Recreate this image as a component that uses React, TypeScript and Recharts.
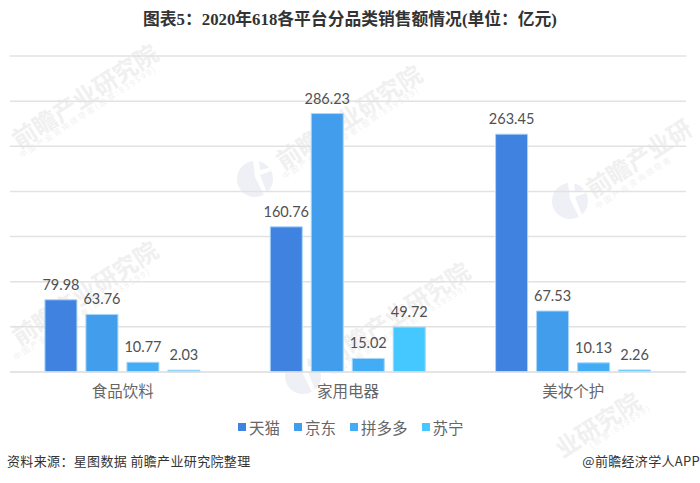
import { Bar, BarChart, CartesianGrid, LabelList, XAxis, YAxis } from "recharts"

const categories = ["食品饮料", "家用电器", "美妆个护"]
const tmall = [79.98, 160.76, 263.45]
const jd = [63.76, 286.23, 67.53]
const pdd = [10.77, 15.02, 10.13]
const suning = [2.03, 49.72, 2.26]
const yTicks = [0, 50, 100, 150, 200, 250, 300, 350]

const data = categories.map((name, i) => ({
  name,
  天猫: tmall[i],
  京东: jd[i],
  拼多多: pdd[i],
  苏宁: suning[i],
}))

const series = [
  { key: "天猫", color: "#3f82e0" },
  { key: "京东", color: "#429ded" },
  { key: "拼多多", color: "#42adf5" },
  { key: "苏宁", color: "#45c8ff" },
]

const cjk = '"Noto Sans CJK SC", sans-serif'

// faint company stamps behind the chart, some of them only partly on the page
const stamps = [
  { x: 14, y: 141, name: "前瞻产业研究院", sub: "中国产业咨询领导者(股票:839599)", subX: 20, subY: 156 },
  { x: 278, y: 162, name: "前瞻产业研究院", sub: "中国产业咨询领导者(股票:839599)", subX: 283, subY: 177 },
  { x: 588, y: 190, name: "前瞻产业研", sub: "中国产业咨询领导者", subX: 596, subY: 207 },
  { x: 14, y: 338, name: "前瞻产业研究院", sub: "中国产业咨询领导者(股票:839599)", subX: 14, subY: 358 },
  { x: 326, y: 359, name: "前瞻产业研究院", sub: "中国产业咨询领导者(股票:839599)", subX: 331, subY: 374 },
  { x: 557, y: 450, name: "业研究院", sub: "(股票:839599)", subX: 590, subY: 446 },
]
const logos = [
  { x: 255, y: 179 },
  { x: 303, y: 376 },
  { x: 570, y: 201 },
]

function Stamp({ x, y, name, sub, subX, subY }: (typeof stamps)[number]) {
  return (
    <>
      <div
        style={{
          position: "absolute",
          left: x,
          top: y - 15,
          transformOrigin: "0 50%",
          transform: "rotate(-33deg)",
          color: "#f0f0f0",
          fontFamily: cjk,
          fontWeight: 700,
          fontSize: 24,
          lineHeight: "30px",
          whiteSpace: "nowrap",
        }}
      >
        {name}
      </div>
      <div
        style={{
          position: "absolute",
          left: subX,
          top: subY - 6,
          transformOrigin: "0 50%",
          transform: "rotate(-33deg)",
          color: "#f1f1f1",
          fontFamily: cjk,
          fontSize: 8,
          letterSpacing: 2,
          lineHeight: "12px",
          whiteSpace: "nowrap",
        }}
      >
        {sub}
      </div>
    </>
  )
}

function Logo({ x, y }: { x: number; y: number }) {
  return (
    <svg width={38} height={38} viewBox="0 0 38 38" style={{ position: "absolute", left: x - 19, top: y - 19 }}>
      <circle cx={19} cy={19} r={18} fill="#eef0f6" />
      <path d="M17 1 L23 1 L24 10 L33 8 L35 11 L24 15 L31 33 L28 35 L19 17 Z" fill="#fff" />
    </svg>
  )
}

function LegendRow() {
  return (
    <div
      style={{
        position: "absolute",
        left: 238,
        top: 415,
        display: "flex",
        gap: 14,
        fontFamily: cjk,
        fontSize: 15.5,
        lineHeight: "24px",
        color: "#666",
        whiteSpace: "nowrap",
      }}
    >
      {series.map((s) => (
        <div key={s.key} style={{ display: "flex", alignItems: "center", gap: 3 }}>
          <span style={{ width: 8, height: 8, background: s.color, display: "inline-block" }} />
          <span>{s.key}</span>
        </div>
      ))}
    </div>
  )
}

export default function App() {
  return (
    <div style={{ position: "absolute", left: 0, top: 0, width: 700, height: 483, background: "#fff", overflow: "hidden" }}>
      {stamps.map((s, i) => (
        <Stamp key={i} {...s} />
      ))}
      {logos.map((l, i) => (
        <Logo key={i} {...l} />
      ))}
      <BarChart
        width={700}
        height={483}
        data={data}
        margin={{ top: 56, right: 14, bottom: 81, left: 10 }}
        barCategoryGap="15.5%"
        barGap={9}
        style={{ position: "absolute", left: 0, top: 0 }}
      >
        <CartesianGrid vertical={false} stroke="#e2e2e2" strokeWidth={1.5} />
        <XAxis
          dataKey="name"
          height={30}
          axisLine={{ stroke: "#e2e2e2", strokeWidth: 1.5 }}
          tickLine={false}
          tick={{ fill: "#666", fontSize: 15.5, fontFamily: cjk }}
          tickMargin={8}
        />
        <YAxis hide domain={[0, 350]} ticks={yTicks} />
        {series.map((s) => (
          <Bar key={s.key} dataKey={s.key} fill={s.color} stroke="#a9d6f7" strokeWidth={1} isAnimationActive={false}>
            <LabelList dataKey={s.key} position="top" offset={10} fill="#505050" fontSize={14.5} fontFamily="Lato, sans-serif" />
          </Bar>
        ))}
      </BarChart>
      <LegendRow />
      <div
        style={{
          position: "absolute",
          left: 0,
          top: 6,
          width: 700,
          textAlign: "center",
          fontFamily: '"Liberation Serif", "Noto Sans CJK SC", serif',
          fontWeight: 700,
          fontSize: 16.8,
          color: "#333",
        }}
      >
        图表5：2020年618各平台分品类销售额情况(单位：亿元)
      </div>
      <div style={{ position: "absolute", left: 7, top: 451, fontFamily: cjk, fontSize: 13, letterSpacing: 0.35, color: "#333" }}>
        资料来源：星图数据 前瞻产业研究院整理
      </div>
      <div style={{ position: "absolute", right: 0, top: 451, fontFamily: cjk, fontSize: 13, letterSpacing: 0.3, color: "#333" }}>
        @前瞻经济学人APP
      </div>
    </div>
  )
}
